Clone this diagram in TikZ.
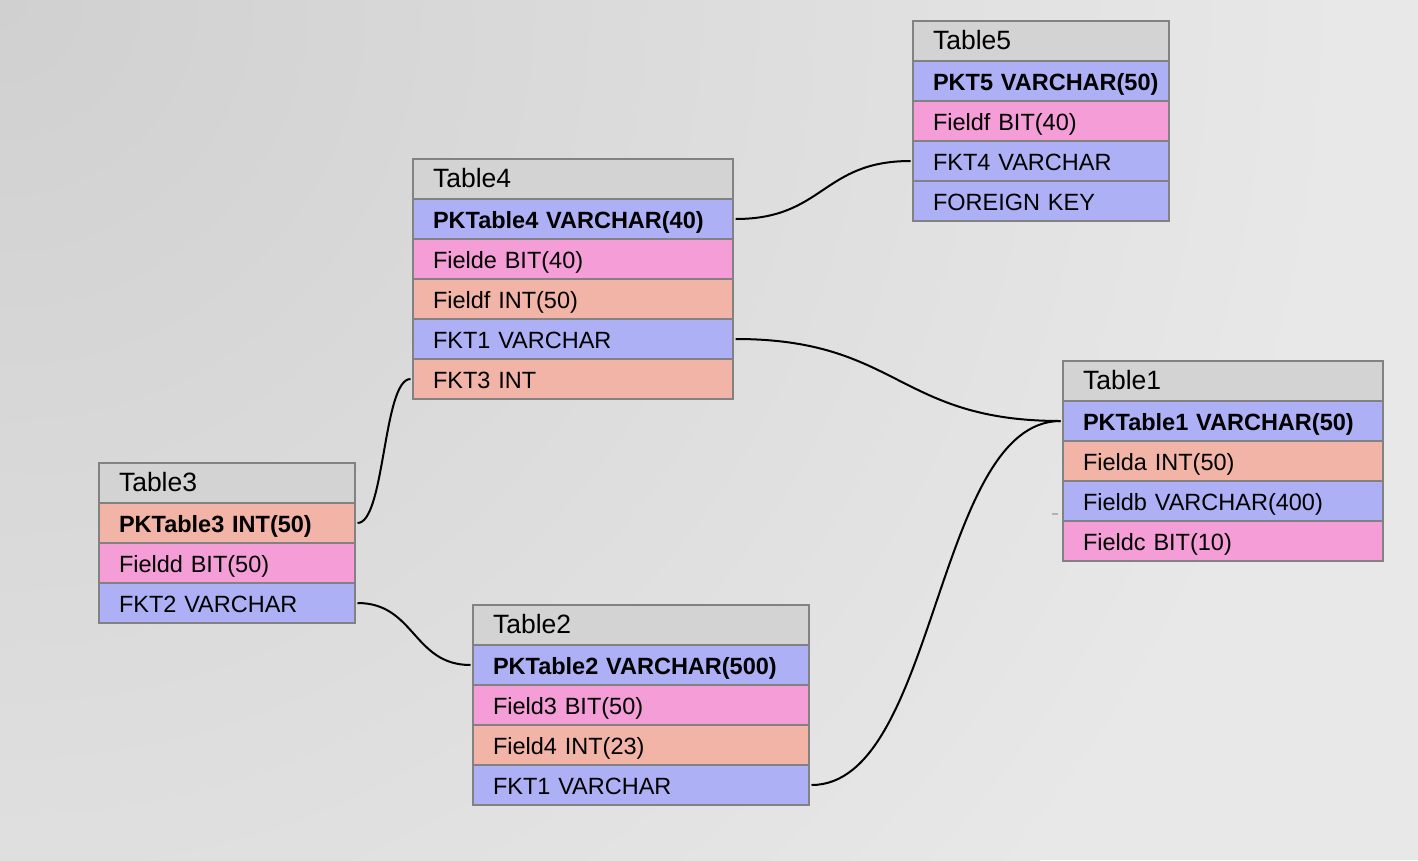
\documentclass[tikz,border=0pt]{standalone}
\usepackage{fontspec}
\setmainfont{Liberation Sans}
\definecolor{hdrgray}{HTML}{D3D3D3}
\definecolor{cblue}{HTML}{AEB0F5}
\definecolor{cpink}{HTML}{F49DD6}
\definecolor{csalmon}{HTML}{F2B4A6}
\definecolor{bordergray}{HTML}{828282}
\definecolor{bgl}{HTML}{E8E8E8}
\definecolor{bgd}{HTML}{D0D0D0}
\tikzset{
  cell/.style={draw=bordergray, line width=2pt, anchor=north west, minimum height=40pt,
    inner xsep=20pt, inner ysep=0pt, align=left, text height=19.5pt, text depth=0pt,
    font=\fontsize{23.5}{28}\selectfont},
  hdr/.style={cell, fill=hdrgray, text height=17.5pt, font=\fontsize{26.5}{30}\selectfont},
  pkrow/.style={cell, font=\fontsize{23.5}{28}\selectfont\bfseries},
  wA/.style={text width=216pt},
  wB/.style={text width=280pt},
  wC/.style={text width=296pt},
  conn/.style={line width=2pt, black, shorten <=1.5pt, shorten >=1.5pt},
}
\begin{document}
\begin{tikzpicture}[x=1pt, y=-1pt]
\useasboundingbox (0,0) rectangle (1418,860);
\fill[bgl] (0,0) rectangle (1418,860);
\begin{scope}
  \clip (0,0) rectangle (1418,860);
  \shade[inner color=bgd, outer color=bgl] (0,0) circle (1350);
\end{scope}

% Table5
\node[hdr, wA] (t5h) at (912,20) {Table5};
\node[pkrow, wA, fill=cblue] (t5pk) at (912,60) {\mbox{PKT5 VARCHAR(50)}};
\node[cell, wA, fill=cpink] (t5f) at (912,100) {Fieldf BIT(40)};
\node[cell, wA, fill=cblue] (t5fk) at (912,140) {FKT4 VARCHAR};
\node[cell, wA, fill=cblue] (t5fk2) at (912,180) {FOREIGN KEY};

% Table4
\node[hdr, wB] (t4h) at (412,158) {Table4};
\node[pkrow, wB, fill=cblue] (t4pk) at (412,198) {\mbox{PKTable4 VARCHAR(40)}};
\node[cell, wB, fill=cpink] (t4fe) at (412,238) {Fielde BIT(40)};
\node[cell, wB, fill=csalmon] (t4ff) at (412,278) {Fieldf INT(50)};
\node[cell, wB, fill=cblue] (t4fk1) at (412,318) {FKT1 VARCHAR};
\node[cell, wB, fill=csalmon] (t4fk3) at (412,358) {FKT3 INT};

% Table1
\node[hdr, wB] (t1h) at (1062,360) {Table1};
\node[pkrow, wB, fill=cblue] (t1pk) at (1062,400) {\mbox{PKTable1 VARCHAR(50)}};
\node[cell, wB, fill=csalmon] (t1fa) at (1062,440) {Fielda INT(50)};
\node[cell, wB, fill=cblue] (t1fb) at (1062,480) {Fieldb VARCHAR(400)};
\node[cell, wB, fill=cpink] (t1fc) at (1062,520) {Fieldc BIT(10)};

% Table3
\node[hdr, wA] (t3h) at (98,462) {Table3};
\node[pkrow, wA, fill=csalmon] (t3pk) at (98,502) {\mbox{PKTable3 INT(50)}};
\node[cell, wA, fill=cpink] (t3fd) at (98,542) {Fieldd BIT(50)};
\node[cell, wA, fill=cblue] (t3fk2) at (98,582) {FKT2 VARCHAR};

% Table2
\node[hdr, wC] (t2h) at (472,604) {Table2};
\node[pkrow, wC, fill=cblue] (t2pk) at (472,644) {\mbox{PKTable2 VARCHAR(500)}};
\node[cell, wC, fill=cpink] (t2f3) at (472,684) {Field3 BIT(50)};
\node[cell, wC, fill=csalmon] (t2f4) at (472,724) {Field4 INT(23)};
\node[cell, wC, fill=cblue] (t2fk1) at (472,764) {FKT1 VARCHAR};

% connectors
\draw[conn] (t4pk.east) .. controls +(90,0) and +(-90,0) .. (t5fk.west);
\draw[conn] (t4fk1.east) .. controls +(165,0) and +(-165,0) .. (t1pk.west);
\draw[conn] (t3pk.east) .. controls +(29,0) and +(-29,0) .. (t4fk3.west);
\draw[conn] (t3fk2.east) .. controls +(59,0) and +(-59,0) .. (t2pk.west);
\draw[conn] (t2fk1.east) .. controls +(127,0) and +(-127,0) .. (t1pk.west);

% small mark
\draw[gray!60, line width=1.5pt] (1052,514) -- (1058,514);
\end{tikzpicture}
\end{document}
